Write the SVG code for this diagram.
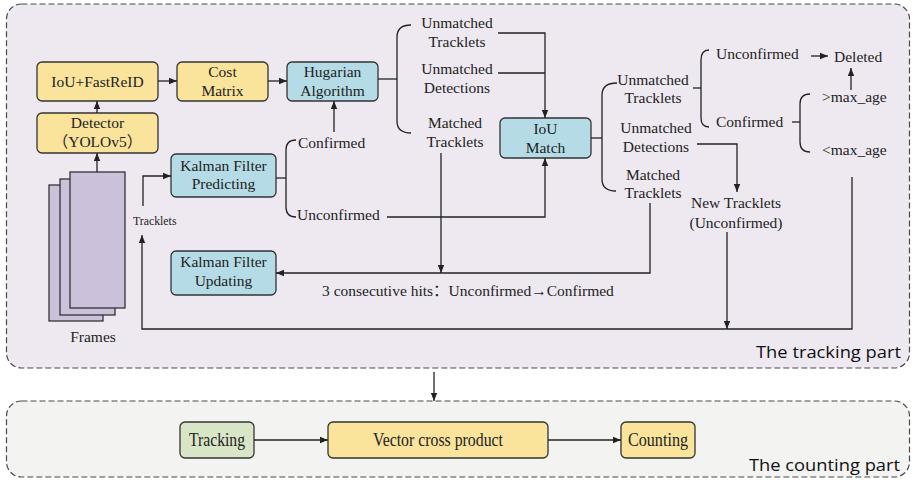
<svg xmlns="http://www.w3.org/2000/svg" width="913" height="480" viewBox="0 0 913 480">
  <defs>
    <marker id="ah" viewBox="0 0 10 10" refX="10" refY="5" markerWidth="8" markerHeight="8" markerUnits="userSpaceOnUse" orient="auto">
      <path d="M0,1 L10,5 L0,9 z" fill="#222"/>
    </marker>
    <style>
      .panel { stroke: #4a4a4a; stroke-width: 1.2; stroke-dasharray: 6 3; }
      .node { stroke: #333; stroke-width: 1.3; }
      .yellow { fill: #fae39b; }
      .blue { fill: #b5dce6; }
      .green { fill: #d9e5c7; }
      .frame { fill: #cbc1da; stroke: #333; stroke-width: 1.3; }
      .t { font-family: "Liberation Serif", "Noto Sans CJK SC", serif; font-size: 15.5px; fill: #222; }
      .c { text-anchor: middle; }
      .small { font-size: 11.8px; }
      .big { font-size: 18.5px; }
      .part { font-family: "Open Sans", "Liberation Sans", sans-serif; font-size: 17px; fill: #111; }
      .conn path { fill: none; stroke: #222; stroke-width: 1.3; }
      .conn .arr { marker-end: url(#ah); }
    </style>
  </defs>

  <!-- panels -->
  <rect id="tracking-panel" class="panel" x="6.5" y="4" width="903" height="364" rx="15" fill="#eee9f0"/>
  <rect id="counting-panel" class="panel" x="6.5" y="401" width="903" height="76" rx="15" fill="#f3f3f2"/>
  <text class="part" x="756" y="358" textLength="145" lengthAdjust="spacingAndGlyphs">The tracking part</text>
  <text class="part" x="749" y="471" textLength="151" lengthAdjust="spacingAndGlyphs">The counting part</text>

  <!-- frames stack -->
  <g id="frames">
    <rect class="frame" x="49" y="185" width="54" height="136"/>
    <rect class="frame" x="60" y="179" width="55" height="136"/>
    <rect class="frame" x="70" y="172" width="55" height="136"/>
    <text class="t c" x="93" y="342">Frames</text>
  </g>

  <g id="iou-fastreid">
    <rect class="node yellow" x="37" y="62" width="121" height="39" rx="5"/>
    <text class="t c" x="97.5" y="86.5">IoU+FastReID</text>
  </g>
  <g id="detector">
    <rect class="node yellow" x="37" y="113" width="121" height="40" rx="5"/>
    <text class="t c" x="97.5" y="128">Detector</text>
    <text class="t c" x="97.5" y="147">（YOLOv5）</text>
  </g>
  <g id="cost-matrix">
    <rect class="node yellow" x="177" y="62" width="91" height="39" rx="5"/>
    <text class="t c" x="222.5" y="77">Cost</text>
    <text class="t c" x="222.5" y="96">Matrix</text>
  </g>
  <g id="hungarian">
    <rect class="node blue" x="287" y="62" width="91" height="39" rx="5"/>
    <text class="t c" x="332.5" y="77">Hugarian</text>
    <text class="t c" x="332.5" y="96">Algorithm</text>
  </g>
  <g id="kf-predict">
    <rect class="node blue" x="171" y="154" width="105" height="43" rx="5"/>
    <text class="t c" x="223.5" y="170.5">Kalman Filter</text>
    <text class="t c" x="223.5" y="189">Predicting</text>
  </g>
  <g id="kf-update">
    <rect class="node blue" x="171" y="251" width="105" height="44" rx="5"/>
    <text class="t c" x="223.5" y="267">Kalman Filter</text>
    <text class="t c" x="223.5" y="286">Updating</text>
  </g>
  <g id="iou-match">
    <rect class="node blue" x="500" y="118" width="91" height="40" rx="5"/>
    <text class="t c" x="545.5" y="134">IoU</text>
    <text class="t c" x="545.5" y="152.5">Match</text>
  </g>
  <g id="tracking">
    <rect class="node green" x="180" y="422" width="74" height="36" rx="5"/>
    <text class="t c big" x="217" y="446" textLength="56" lengthAdjust="spacingAndGlyphs">Tracking</text>
  </g>
  <g id="cross-product">
    <rect class="node yellow" x="328" y="422" width="220" height="36" rx="5"/>
    <text class="t c big" x="438" y="446" textLength="130" lengthAdjust="spacingAndGlyphs">Vector cross product</text>
  </g>
  <g id="counting">
    <rect class="node yellow" x="621" y="422" width="74" height="36" rx="5"/>
    <text class="t c big" x="658" y="446" textLength="60" lengthAdjust="spacingAndGlyphs">Counting</text>
  </g>

  <!-- branch labels -->
  <g id="labels">
    <text class="t c" x="457" y="28">Unmatched</text>
    <text class="t c" x="457" y="47">Tracklets</text>
    <text class="t c" x="457" y="74">Unmatched</text>
    <text class="t c" x="457" y="93">Detections</text>
    <text class="t c" x="455" y="128">Matched</text>
    <text class="t c" x="455" y="147">Tracklets</text>
    <text class="t" x="298" y="148">Confirmed</text>
    <text class="t" x="297" y="220">Unconfirmed</text>
    <text class="t small" x="133" y="225">Tracklets</text>
    <text class="t" x="322" y="296">3 consecutive hits：Unconfirmed→Confirmed</text>

    <text class="t c" x="653" y="85">Unmatched</text>
    <text class="t c" x="653" y="103">Tracklets</text>
    <text class="t c" x="656" y="133">Unmatched</text>
    <text class="t c" x="656" y="152">Detections</text>
    <text class="t c" x="653" y="180">Matched</text>
    <text class="t c" x="653" y="198">Tracklets</text>
    <text class="t c" x="736" y="208">New Tracklets</text>
    <text class="t c" x="736" y="228">(Unconfirmed)</text>

    <text class="t" x="716" y="59">Unconfirmed</text>
    <text class="t" x="834" y="62">Deleted</text>
    <text class="t" x="716" y="127">Confirmed</text>
    <text class="t" x="822" y="102">&gt;max_age</text>
    <text class="t" x="822" y="155">&lt;max_age</text>
  </g>

  <!-- connectors -->
  <g id="connectors" class="conn">
    <path class="arr" d="M97,172 V153"/>
    <path class="arr" d="M97,113 V101"/>
    <path class="arr" d="M158,81 H177"/>
    <path class="arr" d="M268,81 H287"/>

    <path d="M378,79 H397"/>
    <path d="M411,25 Q397,25 397,37 V121 Q397,133 411,133"/>
    <path class="arr" d="M498,33 H545 V118"/>
    <path d="M498,73 H545"/>
    <path class="arr" d="M441,153 V273"/>
    <path class="arr" d="M650,203 V273 H276"/>
    <path class="arr" d="M334,132 V101"/>

    <path d="M276,178 H286"/>
    <path d="M296,140 Q286,140 286,150 V207 Q286,217 296,217"/>
    <path class="arr" d="M387,217 H545 V158"/>

    <path d="M591,138 H602"/>
    <path d="M617,83 Q602,83 602,95 V179 Q602,191 616,191"/>
    <path d="M693,88 H701"/>
    <path d="M709,50 Q701,50 701,60 V118 Q701,127 709,127"/>
    <path class="arr" d="M811,56 H828"/>
    <path d="M792,122 H800"/>
    <path d="M810,94 Q800,94 800,104 V142 Q800,152 810,152"/>
    <path class="arr" d="M851,90 V68"/>

    <path class="arr" d="M697,144 H737 V192"/>
    <path class="arr" d="M727,232 V329"/>
    <path class="arr" d="M852,177 V329 H142 V235"/>
    <path class="arr" d="M143,206 V176 H171"/>

    <path class="arr" d="M434,372 V401"/>
    <path class="arr" d="M254,440 H328"/>
    <path class="arr" d="M548,440 H621"/>
  </g>
</svg>
